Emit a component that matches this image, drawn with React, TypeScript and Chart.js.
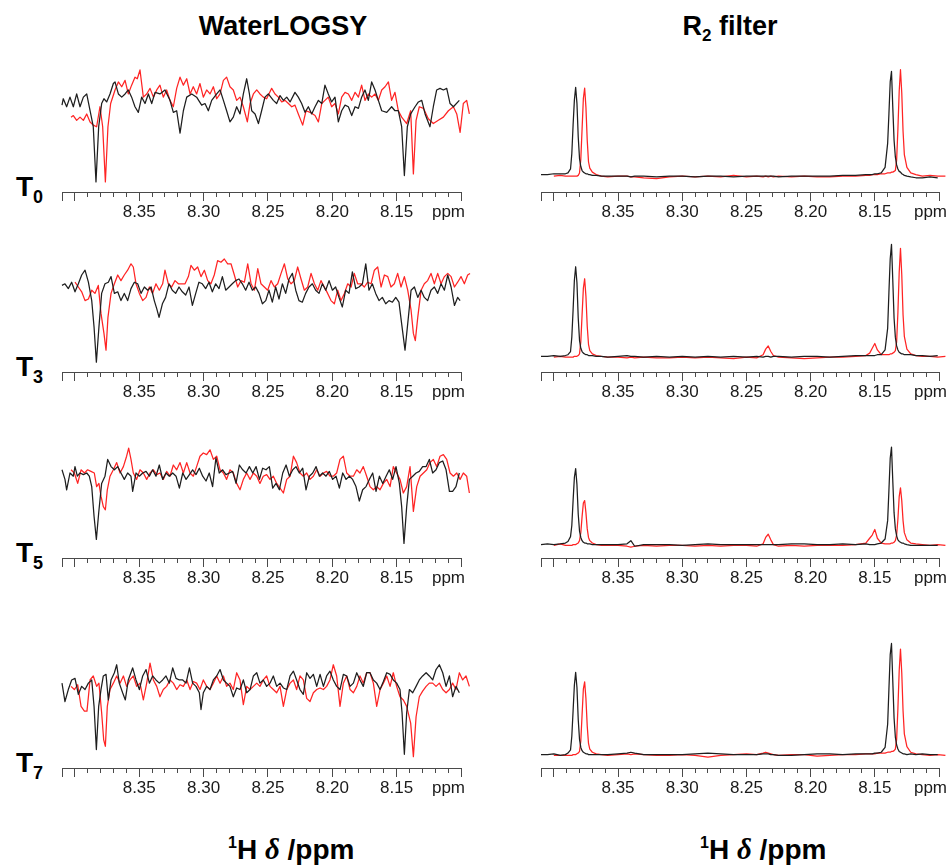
import React, { useEffect, useRef } from "react";
import { Chart, registerables } from "chart.js";

Chart.register(...registerables);

// ---------------- axis ticks (ppm) ----------------
const PPM_TICKS = [8.41, 8.4, 8.39, 8.38, 8.37, 8.36, 8.35, 8.34, 8.33, 8.32, 8.31, 8.3, 8.29, 8.28, 8.27, 8.26, 8.25, 8.24, 8.23, 8.22, 8.21, 8.2, 8.19, 8.18, 8.17, 8.16, 8.15, 8.14, 8.13, 8.12, 8.11, 8.1];
const PPM_LABELS = [8.35, 8.3, 8.25, 8.2, 8.15];
const PPM_MAJOR_TICKS = [8.41, 8.4, 8.35, 8.3, 8.25, 8.2, 8.15, 8.1];
const ROW_LABELS = ["0", "3", "5", "7"];

// ---------------- WaterLOGSY traces ----------------
const WL_T0_BLACK_PPM = [8.4100, 8.4090, 8.4064, 8.4038, 8.4012, 8.3986, 8.3960, 8.3934, 8.3908, 8.3882, 8.3857, 8.3836, 8.3815, 8.3792, 8.3774, 8.3753, 8.3727, 8.3701, 8.3688, 8.3662, 8.3636, 8.3610, 8.3585, 8.3559, 8.3533, 8.3507, 8.3481, 8.3455, 8.3429, 8.3403, 8.3377, 8.3339, 8.3300, 8.3261, 8.3235, 8.3209, 8.3183, 8.3157, 8.3131, 8.3092, 8.3054, 8.3015, 8.2989, 8.2963, 8.2937, 8.2898, 8.2872, 8.2846, 8.2821, 8.2795, 8.2769, 8.2743, 8.2717, 8.2691, 8.2665, 8.2644, 8.2626, 8.2600, 8.2574, 8.2549, 8.2523, 8.2497, 8.2458, 8.2432, 8.2406, 8.2380, 8.2354, 8.2328, 8.2290, 8.2264, 8.2238, 8.2212, 8.2186, 8.2160, 8.2134, 8.2108, 8.2082, 8.2057, 8.2031, 8.2005, 8.1979, 8.1953, 8.1927, 8.1901, 8.1875, 8.1849, 8.1823, 8.1797, 8.1772, 8.1746, 8.1720, 8.1694, 8.1668, 8.1642, 8.1616, 8.1577, 8.1539, 8.1513, 8.1487, 8.1461, 8.1440, 8.1417, 8.1391, 8.1357, 8.1331, 8.1305, 8.1279, 8.1241, 8.1215, 8.1189, 8.1163, 8.1137, 8.1111, 8.1085, 8.1059, 8.1013];
const WL_T0_BLACK_INT = [-0.06, 0.02, -0.08, 0.04, -0.08, 0.08, -0.08, 0.04, 0.08, -0.13, -0.33, -1.02, -0.33, -0.04, 0.02, -0.02, 0.08, 0.21, 0.23, 0.08, 0.04, 0.08, 0.13, 0.04, -0.08, -0.15, 0.04, -0.04, 0.08, -0.04, 0.10, 0.08, 0.13, 0.00, -0.15, -0.13, -0.41, -0.13, 0.04, 0.08, 0.04, -0.06, -0.04, -0.13, 0.00, 0.08, 0.13, 0.00, -0.13, -0.27, -0.21, -0.08, -0.17, 0.08, 0.27, 0.08, -0.13, -0.17, -0.29, -0.13, 0.04, 0.08, 0.00, -0.04, 0.06, 0.00, 0.04, -0.02, 0.10, 0.04, -0.04, -0.15, -0.08, -0.17, -0.08, 0.00, -0.04, 0.19, 0.08, -0.02, 0.04, -0.27, -0.13, -0.06, -0.08, -0.19, -0.08, -0.10, 0.04, 0.13, 0.00, 0.23, 0.13, 0.00, -0.13, -0.15, -0.08, -0.13, -0.13, -0.33, -0.94, -0.33, -0.17, -0.08, -0.02, 0.00, -0.17, -0.33, -0.08, 0.13, 0.15, 0.13, 0.15, -0.04, -0.08, 0.00];
const WL_T0_RED_PPM = [8.4030, 8.4012, 8.3986, 8.3960, 8.3934, 8.3908, 8.3882, 8.3857, 8.3831, 8.3805, 8.3784, 8.3763, 8.3743, 8.3722, 8.3688, 8.3662, 8.3636, 8.3610, 8.3585, 8.3559, 8.3533, 8.3515, 8.3494, 8.3468, 8.3442, 8.3416, 8.3390, 8.3364, 8.3339, 8.3313, 8.3287, 8.3261, 8.3235, 8.3209, 8.3183, 8.3157, 8.3131, 8.3105, 8.3080, 8.3054, 8.3028, 8.3002, 8.2976, 8.2950, 8.2924, 8.2898, 8.2872, 8.2846, 8.2821, 8.2795, 8.2769, 8.2743, 8.2717, 8.2691, 8.2660, 8.2639, 8.2613, 8.2587, 8.2562, 8.2536, 8.2510, 8.2471, 8.2445, 8.2419, 8.2393, 8.2367, 8.2341, 8.2315, 8.2290, 8.2264, 8.2230, 8.2204, 8.2173, 8.2134, 8.2108, 8.2082, 8.2057, 8.2031, 8.2005, 8.1979, 8.1953, 8.1927, 8.1901, 8.1875, 8.1849, 8.1823, 8.1797, 8.1772, 8.1746, 8.1720, 8.1694, 8.1668, 8.1642, 8.1616, 8.1590, 8.1564, 8.1539, 8.1513, 8.1487, 8.1461, 8.1422, 8.1391, 8.1370, 8.1349, 8.1324, 8.1292, 8.1254, 8.1215, 8.1176, 8.1137, 8.1098, 8.1059, 8.1033, 8.1007, 8.0982, 8.0956, 8.0935];
const WL_T0_RED_INT = [-0.21, -0.19, -0.25, -0.21, -0.25, -0.17, -0.27, -0.31, -0.33, -0.08, -0.33, -1.02, -0.33, -0.04, 0.13, 0.23, 0.17, 0.25, 0.08, 0.19, 0.29, 0.27, 0.38, 0.04, 0.08, 0.15, 0.04, 0.13, 0.19, 0.04, 0.13, 0.00, -0.08, 0.15, 0.29, 0.19, 0.27, 0.08, 0.17, 0.08, 0.21, 0.04, 0.13, 0.08, 0.17, 0.02, 0.08, 0.25, 0.29, 0.17, 0.13, 0.00, 0.04, -0.08, -0.27, -0.04, 0.08, 0.13, 0.08, 0.04, 0.02, 0.15, 0.08, 0.04, -0.02, 0.00, -0.04, -0.08, -0.06, -0.17, -0.31, -0.13, -0.15, -0.19, -0.27, -0.04, 0.00, 0.04, -0.08, -0.04, -0.17, 0.04, 0.10, 0.08, 0.00, 0.10, 0.04, 0.19, 0.00, 0.08, 0.04, 0.08, 0.00, 0.13, 0.17, 0.23, 0.00, 0.10, -0.13, -0.21, -0.29, -0.13, -0.92, -0.25, -0.08, -0.10, -0.23, -0.29, -0.25, -0.21, -0.13, -0.08, -0.17, -0.40, -0.04, 0.00, -0.17];

const WL_T3_BLACK_PPM = [8.4100, 8.4077, 8.4051, 8.4025, 8.3999, 8.3973, 8.3947, 8.3921, 8.3895, 8.3869, 8.3851, 8.3833, 8.3813, 8.3792, 8.3766, 8.3740, 8.3719, 8.3693, 8.3667, 8.3642, 8.3616, 8.3590, 8.3564, 8.3538, 8.3512, 8.3486, 8.3460, 8.3434, 8.3408, 8.3383, 8.3364, 8.3346, 8.3320, 8.3295, 8.3269, 8.3243, 8.3217, 8.3191, 8.3165, 8.3139, 8.3113, 8.3087, 8.3061, 8.3036, 8.3010, 8.2984, 8.2958, 8.2932, 8.2906, 8.2880, 8.2854, 8.2828, 8.2802, 8.2777, 8.2751, 8.2725, 8.2699, 8.2673, 8.2647, 8.2621, 8.2595, 8.2569, 8.2543, 8.2517, 8.2492, 8.2466, 8.2440, 8.2414, 8.2388, 8.2362, 8.2336, 8.2310, 8.2284, 8.2259, 8.2233, 8.2207, 8.2181, 8.2155, 8.2129, 8.2103, 8.2077, 8.2051, 8.2025, 8.1999, 8.1974, 8.1948, 8.1922, 8.1896, 8.1870, 8.1844, 8.1818, 8.1792, 8.1766, 8.1740, 8.1715, 8.1689, 8.1663, 8.1637, 8.1611, 8.1585, 8.1559, 8.1533, 8.1507, 8.1482, 8.1461, 8.1435, 8.1409, 8.1388, 8.1362, 8.1336, 8.1310, 8.1285, 8.1259, 8.1233, 8.1207, 8.1181, 8.1155, 8.1129, 8.1103, 8.1077, 8.1051, 8.1026, 8.1007];
const WL_T3_BLACK_INT = [0.02, 0.04, -0.02, 0.06, -0.06, 0.04, 0.15, 0.21, 0.06, -0.17, -0.50, -0.94, -0.50, -0.08, 0.04, 0.06, 0.13, -0.08, -0.06, -0.17, -0.08, -0.17, -0.02, 0.06, 0.04, -0.08, 0.00, -0.04, 0.00, -0.17, -0.27, -0.38, -0.21, -0.13, 0.04, -0.04, -0.08, 0.00, -0.06, -0.10, 0.00, -0.23, -0.08, 0.06, 0.04, -0.02, 0.06, -0.06, 0.04, -0.02, 0.13, -0.04, 0.00, 0.04, 0.08, 0.10, 0.04, -0.04, 0.06, -0.04, 0.00, -0.08, -0.21, -0.17, -0.04, -0.19, 0.00, -0.15, 0.04, -0.08, 0.10, 0.17, -0.04, -0.17, -0.19, -0.08, 0.00, 0.04, -0.04, -0.08, 0.04, -0.04, 0.08, -0.04, 0.00, -0.13, -0.25, -0.04, -0.08, 0.19, -0.02, 0.00, 0.04, 0.29, -0.04, 0.04, -0.08, -0.17, -0.13, -0.21, -0.17, -0.19, -0.13, -0.19, -0.46, -0.79, -0.38, -0.04, 0.00, -0.13, -0.04, -0.13, -0.17, -0.04, 0.00, -0.08, 0.04, -0.04, 0.15, 0.00, -0.23, -0.13, -0.17];
const WL_T3_RED_PPM = [8.3999, 8.3973, 8.3947, 8.3921, 8.3895, 8.3869, 8.3844, 8.3818, 8.3797, 8.3774, 8.3758, 8.3743, 8.3719, 8.3693, 8.3667, 8.3642, 8.3616, 8.3590, 8.3564, 8.3546, 8.3525, 8.3499, 8.3473, 8.3447, 8.3421, 8.3396, 8.3370, 8.3344, 8.3318, 8.3300, 8.3274, 8.3248, 8.3222, 8.3196, 8.3170, 8.3144, 8.3118, 8.3098, 8.3072, 8.3046, 8.3020, 8.2994, 8.2968, 8.2943, 8.2917, 8.2891, 8.2865, 8.2839, 8.2813, 8.2787, 8.2761, 8.2735, 8.2709, 8.2683, 8.2657, 8.2631, 8.2605, 8.2579, 8.2554, 8.2528, 8.2502, 8.2476, 8.2450, 8.2424, 8.2398, 8.2372, 8.2346, 8.2320, 8.2295, 8.2269, 8.2243, 8.2217, 8.2191, 8.2165, 8.2139, 8.2113, 8.2088, 8.2062, 8.2036, 8.2010, 8.1984, 8.1958, 8.1932, 8.1906, 8.1880, 8.1854, 8.1829, 8.1803, 8.1777, 8.1751, 8.1725, 8.1699, 8.1673, 8.1647, 8.1621, 8.1595, 8.1569, 8.1544, 8.1518, 8.1492, 8.1466, 8.1440, 8.1414, 8.1388, 8.1370, 8.1355, 8.1336, 8.1310, 8.1285, 8.1259, 8.1233, 8.1207, 8.1181, 8.1155, 8.1129, 8.1103, 8.1077, 8.1051, 8.1026, 8.1000, 8.0974, 8.0948, 8.0930];
const WL_T3_RED_INT = [0.06, 0.00, -0.06, -0.17, -0.15, -0.04, -0.08, 0.02, -0.33, -0.58, -0.79, -0.38, -0.08, 0.04, 0.15, 0.08, 0.15, 0.21, 0.29, 0.25, 0.04, -0.08, -0.17, -0.13, 0.00, -0.08, 0.04, -0.04, 0.04, 0.21, 0.04, 0.00, 0.08, 0.04, 0.04, 0.04, 0.13, 0.27, 0.21, 0.25, 0.13, 0.21, 0.08, 0.04, 0.15, 0.33, 0.31, 0.35, 0.29, 0.29, 0.15, 0.00, 0.08, 0.06, 0.29, 0.04, -0.04, 0.23, 0.04, 0.00, -0.04, 0.08, 0.00, 0.04, 0.17, 0.29, 0.10, 0.04, 0.08, 0.25, 0.10, -0.04, 0.00, 0.17, 0.04, -0.04, 0.08, 0.00, -0.08, -0.17, -0.21, -0.04, -0.17, -0.08, 0.04, 0.00, 0.17, 0.04, 0.04, 0.00, 0.06, 0.04, 0.21, 0.25, 0.00, 0.15, 0.13, 0.00, 0.04, 0.17, 0.00, 0.13, -0.04, -0.29, -0.58, -0.67, -0.38, -0.04, 0.04, 0.08, 0.17, 0.04, 0.17, 0.04, 0.13, 0.17, 0.13, 0.00, 0.06, 0.13, 0.04, 0.15, 0.17];

const WL_T5_BLACK_PPM = [8.4100, 8.4077, 8.4064, 8.4038, 8.4012, 8.3999, 8.3981, 8.3960, 8.3934, 8.3908, 8.3888, 8.3869, 8.3851, 8.3833, 8.3815, 8.3792, 8.3766, 8.3745, 8.3719, 8.3693, 8.3667, 8.3642, 8.3616, 8.3590, 8.3564, 8.3551, 8.3525, 8.3499, 8.3473, 8.3447, 8.3421, 8.3396, 8.3370, 8.3344, 8.3318, 8.3292, 8.3266, 8.3240, 8.3214, 8.3188, 8.3162, 8.3136, 8.3110, 8.3085, 8.3059, 8.3033, 8.3007, 8.2981, 8.2956, 8.2930, 8.2904, 8.2878, 8.2852, 8.2826, 8.2800, 8.2774, 8.2748, 8.2722, 8.2696, 8.2670, 8.2644, 8.2618, 8.2592, 8.2566, 8.2541, 8.2515, 8.2489, 8.2463, 8.2437, 8.2411, 8.2385, 8.2359, 8.2333, 8.2307, 8.2282, 8.2256, 8.2230, 8.2204, 8.2178, 8.2152, 8.2126, 8.2100, 8.2075, 8.2049, 8.2023, 8.1997, 8.1971, 8.1945, 8.1919, 8.1893, 8.1867, 8.1842, 8.1816, 8.1790, 8.1764, 8.1738, 8.1712, 8.1686, 8.1660, 8.1634, 8.1608, 8.1582, 8.1557, 8.1531, 8.1505, 8.1479, 8.1461, 8.1443, 8.1422, 8.1401, 8.1375, 8.1349, 8.1324, 8.1298, 8.1271, 8.1246, 8.1220, 8.1194, 8.1168, 8.1142, 8.1116, 8.1090, 8.1065, 8.1039, 8.1013];
const WL_T5_BLACK_INT = [0.04, -0.08, -0.21, 0.00, -0.04, 0.08, -0.04, 0.00, -0.02, 0.00, -0.04, -0.17, -0.54, -0.83, -0.50, -0.13, -0.04, 0.17, 0.08, 0.04, 0.08, 0.00, -0.08, 0.00, -0.04, -0.23, 0.00, -0.04, 0.00, 0.02, -0.04, 0.04, -0.04, 0.10, -0.08, 0.00, -0.04, 0.00, -0.04, -0.19, 0.00, -0.08, -0.02, 0.04, -0.02, 0.06, -0.04, -0.10, 0.00, -0.17, 0.19, 0.00, 0.04, -0.02, 0.00, 0.02, -0.13, 0.10, 0.04, 0.00, 0.08, 0.00, 0.08, -0.08, 0.06, 0.04, 0.08, -0.19, -0.13, -0.21, 0.00, 0.10, -0.04, 0.04, 0.08, 0.00, 0.06, -0.21, -0.04, 0.00, 0.08, -0.04, 0.00, -0.04, 0.02, -0.08, -0.04, -0.19, 0.00, -0.08, -0.04, -0.08, -0.17, -0.35, -0.21, -0.17, -0.08, 0.00, -0.23, -0.04, -0.13, -0.04, 0.04, -0.08, 0.08, -0.13, -0.42, -0.88, -0.42, -0.08, -0.04, 0.00, 0.02, 0.08, 0.08, 0.17, 0.00, 0.04, 0.13, 0.15, 0.04, -0.23, -0.23, -0.17, 0.00];
const WL_T5_RED_PPM = [8.4030, 8.4004, 8.3978, 8.3952, 8.3926, 8.3901, 8.3875, 8.3849, 8.3831, 8.3813, 8.3797, 8.3779, 8.3763, 8.3748, 8.3727, 8.3701, 8.3675, 8.3649, 8.3623, 8.3598, 8.3582, 8.3564, 8.3546, 8.3520, 8.3494, 8.3468, 8.3442, 8.3416, 8.3390, 8.3364, 8.3339, 8.3313, 8.3287, 8.3261, 8.3235, 8.3209, 8.3183, 8.3157, 8.3131, 8.3105, 8.3080, 8.3054, 8.3028, 8.3002, 8.2976, 8.2950, 8.2924, 8.2898, 8.2872, 8.2846, 8.2821, 8.2795, 8.2769, 8.2743, 8.2717, 8.2691, 8.2665, 8.2639, 8.2613, 8.2587, 8.2562, 8.2536, 8.2510, 8.2484, 8.2458, 8.2432, 8.2406, 8.2380, 8.2354, 8.2328, 8.2302, 8.2277, 8.2251, 8.2225, 8.2199, 8.2173, 8.2147, 8.2121, 8.2095, 8.2069, 8.2044, 8.2018, 8.1992, 8.1966, 8.1940, 8.1914, 8.1888, 8.1862, 8.1836, 8.1810, 8.1785, 8.1759, 8.1733, 8.1707, 8.1681, 8.1655, 8.1629, 8.1603, 8.1577, 8.1551, 8.1526, 8.1500, 8.1474, 8.1448, 8.1422, 8.1396, 8.1370, 8.1344, 8.1318, 8.1292, 8.1266, 8.1241, 8.1215, 8.1189, 8.1163, 8.1137, 8.1111, 8.1085, 8.1059, 8.1033, 8.1007, 8.0982, 8.0956, 8.0935];
const WL_T5_RED_INT = [0.04, 0.00, -0.13, 0.04, 0.00, 0.04, 0.02, 0.00, -0.17, -0.13, -0.29, -0.42, -0.46, -0.21, -0.04, 0.04, 0.13, 0.00, 0.08, 0.21, 0.31, 0.17, 0.00, -0.08, 0.04, 0.00, -0.08, 0.00, 0.04, -0.02, 0.00, -0.08, 0.02, -0.04, 0.10, 0.04, 0.13, 0.00, 0.13, 0.00, -0.04, 0.08, 0.21, 0.25, 0.23, 0.29, 0.17, 0.21, 0.04, 0.00, -0.08, 0.04, 0.00, -0.13, -0.21, -0.08, 0.00, -0.08, 0.00, -0.04, -0.13, -0.04, -0.02, -0.08, -0.04, -0.13, -0.19, -0.25, -0.08, -0.04, 0.21, 0.13, 0.00, -0.04, 0.00, -0.08, -0.04, 0.04, -0.04, 0.00, 0.02, -0.04, -0.04, 0.00, 0.17, 0.21, 0.00, -0.04, -0.04, 0.04, 0.00, 0.08, -0.04, -0.17, -0.21, -0.17, -0.21, -0.13, -0.08, -0.17, 0.08, 0.00, -0.08, -0.25, -0.17, 0.08, -0.48, -0.17, -0.04, 0.00, 0.04, 0.13, 0.17, 0.08, 0.21, 0.23, 0.17, 0.00, -0.04, 0.00, -0.08, 0.00, -0.04, -0.25];

const WL_T7_BLACK_PPM = [8.4100, 8.4077, 8.4051, 8.4025, 8.3999, 8.3973, 8.3947, 8.3921, 8.3895, 8.3869, 8.3851, 8.3833, 8.3815, 8.3797, 8.3779, 8.3758, 8.3740, 8.3719, 8.3693, 8.3675, 8.3655, 8.3629, 8.3608, 8.3585, 8.3551, 8.3525, 8.3499, 8.3473, 8.3447, 8.3421, 8.3396, 8.3370, 8.3344, 8.3318, 8.3292, 8.3266, 8.3240, 8.3214, 8.3188, 8.3162, 8.3136, 8.3110, 8.3085, 8.3059, 8.3033, 8.3020, 8.3002, 8.2976, 8.2950, 8.2924, 8.2898, 8.2872, 8.2846, 8.2821, 8.2795, 8.2769, 8.2743, 8.2717, 8.2691, 8.2665, 8.2639, 8.2613, 8.2587, 8.2562, 8.2536, 8.2510, 8.2484, 8.2458, 8.2432, 8.2406, 8.2380, 8.2354, 8.2328, 8.2302, 8.2277, 8.2251, 8.2225, 8.2199, 8.2173, 8.2147, 8.2121, 8.2095, 8.2069, 8.2044, 8.2018, 8.1992, 8.1966, 8.1940, 8.1914, 8.1888, 8.1862, 8.1836, 8.1810, 8.1785, 8.1759, 8.1733, 8.1707, 8.1681, 8.1655, 8.1629, 8.1603, 8.1577, 8.1551, 8.1526, 8.1500, 8.1474, 8.1458, 8.1440, 8.1422, 8.1401, 8.1375, 8.1349, 8.1324, 8.1298, 8.1271, 8.1246, 8.1220, 8.1194, 8.1168, 8.1142, 8.1116, 8.1090, 8.1065, 8.1039, 8.1013];
const WL_T7_BLACK_INT = [0.04, -0.19, -0.04, 0.08, 0.10, -0.10, 0.00, -0.04, 0.04, 0.08, -0.25, -0.79, -0.25, -0.04, 0.13, 0.15, -0.17, 0.08, 0.17, 0.27, 0.04, -0.08, -0.17, 0.08, 0.23, 0.08, -0.04, 0.13, 0.21, 0.04, 0.13, 0.08, 0.04, 0.08, 0.13, 0.04, 0.23, 0.10, 0.08, 0.08, 0.04, 0.23, 0.04, 0.00, -0.08, -0.29, -0.08, 0.00, -0.04, 0.08, 0.13, 0.21, 0.08, 0.04, 0.00, -0.13, -0.02, -0.04, 0.08, -0.08, -0.04, 0.13, 0.17, 0.04, 0.08, 0.00, 0.04, 0.13, 0.00, 0.04, -0.02, -0.04, 0.13, 0.19, 0.08, -0.04, -0.10, 0.17, 0.10, 0.15, 0.00, 0.15, 0.00, 0.13, 0.19, 0.08, 0.00, -0.04, 0.15, 0.13, 0.00, 0.04, 0.17, 0.08, 0.00, 0.17, 0.17, 0.08, 0.04, -0.04, 0.06, 0.17, 0.15, 0.08, 0.04, -0.04, -0.33, -0.85, -0.33, -0.04, -0.08, 0.00, 0.08, 0.13, 0.17, 0.13, 0.08, 0.21, 0.27, 0.17, 0.00, 0.13, -0.13, 0.00, -0.08];
const WL_T7_RED_PPM = [8.4030, 8.4004, 8.3978, 8.3952, 8.3926, 8.3906, 8.3882, 8.3857, 8.3831, 8.3813, 8.3792, 8.3776, 8.3763, 8.3748, 8.3727, 8.3701, 8.3675, 8.3649, 8.3623, 8.3598, 8.3572, 8.3546, 8.3520, 8.3494, 8.3468, 8.3442, 8.3416, 8.3390, 8.3364, 8.3339, 8.3313, 8.3287, 8.3261, 8.3235, 8.3209, 8.3183, 8.3157, 8.3131, 8.3105, 8.3080, 8.3054, 8.3028, 8.3002, 8.2976, 8.2950, 8.2924, 8.2898, 8.2872, 8.2846, 8.2821, 8.2795, 8.2769, 8.2743, 8.2717, 8.2691, 8.2665, 8.2639, 8.2613, 8.2587, 8.2562, 8.2536, 8.2510, 8.2484, 8.2458, 8.2432, 8.2406, 8.2380, 8.2354, 8.2328, 8.2302, 8.2277, 8.2251, 8.2225, 8.2199, 8.2173, 8.2147, 8.2121, 8.2095, 8.2069, 8.2044, 8.2018, 8.1992, 8.1966, 8.1940, 8.1914, 8.1888, 8.1862, 8.1836, 8.1810, 8.1785, 8.1759, 8.1733, 8.1707, 8.1681, 8.1655, 8.1629, 8.1603, 8.1577, 8.1551, 8.1526, 8.1500, 8.1474, 8.1448, 8.1422, 8.1391, 8.1370, 8.1349, 8.1324, 8.1298, 8.1271, 8.1246, 8.1220, 8.1194, 8.1168, 8.1142, 8.1116, 8.1090, 8.1065, 8.1039, 8.1013, 8.0987, 8.0961, 8.0935];
const WL_T7_RED_INT = [0.00, -0.04, 0.02, -0.25, -0.31, -0.31, 0.08, 0.13, 0.00, 0.04, -0.33, -0.67, -0.75, -0.25, -0.04, 0.04, 0.13, 0.04, 0.13, 0.00, 0.08, 0.13, 0.00, 0.04, -0.17, 0.04, 0.29, 0.08, 0.00, -0.13, -0.04, 0.00, 0.08, 0.04, -0.04, 0.02, 0.00, 0.08, -0.04, 0.06, 0.04, -0.04, 0.08, 0.00, -0.04, 0.04, 0.13, 0.04, 0.13, 0.00, 0.04, -0.04, 0.17, 0.08, -0.23, 0.00, -0.04, 0.00, 0.04, 0.00, 0.08, 0.13, 0.00, -0.04, -0.08, 0.00, -0.25, -0.04, 0.04, 0.08, -0.04, 0.13, 0.08, -0.15, -0.19, -0.08, -0.04, -0.02, -0.04, 0.00, 0.08, 0.27, 0.13, -0.25, 0.04, 0.13, -0.04, -0.08, 0.00, 0.13, 0.04, 0.17, 0.17, 0.04, -0.25, -0.04, 0.04, 0.13, 0.00, 0.17, 0.00, -0.13, -0.17, -0.25, -0.46, -0.88, -0.38, -0.13, -0.06, 0.00, 0.04, 0.04, 0.00, 0.04, -0.04, -0.08, -0.04, 0.04, -0.04, 0.17, 0.08, 0.13, 0.00];

// ---------------- R2 filter traces (shared ppm grid) ----------------
const R2_PPM = [8.410, 8.405, 8.400, 8.395, 8.391, 8.389, 8.387, 8.386, 8.385, 8.384, 8.383, 8.382, 8.381, 8.380, 8.379, 8.378, 8.377, 8.376, 8.375, 8.374, 8.373, 8.372, 8.370, 8.367, 8.363, 8.358, 8.350, 8.343, 8.340, 8.337, 8.330, 8.320, 8.310, 8.300, 8.290, 8.280, 8.270, 8.260, 8.250, 8.242, 8.237, 8.235, 8.233, 8.231, 8.229, 8.225, 8.215, 8.205, 8.195, 8.185, 8.175, 8.165, 8.157, 8.154, 8.152, 8.150, 8.148, 8.145, 8.142, 8.140, 8.139, 8.138, 8.137, 8.136, 8.135, 8.134, 8.133, 8.132, 8.131, 8.130, 8.129, 8.128, 8.127, 8.125, 8.122, 8.118, 8.113, 8.107, 8.101, 8.095];
const R2_T0_BLACK = [0.01, 0.01, 0.02, 0.02, 0.02, 0.03, 0.08, 0.27, 0.63, 0.94, 1.10, 0.90, 0.48, 0.21, 0.11, 0.06, 0.04, 0.03, 0.02, 0.02, 0.01, 0.01, 0.00, 0.00, -0.01, -0.01, -0.01, -0.01, -0.02, -0.01, -0.01, -0.02, -0.01, -0.01, -0.02, -0.01, -0.01, -0.02, -0.01, -0.01, -0.01, -0.01, -0.01, -0.01, -0.01, -0.02, -0.01, -0.01, -0.01, -0.01, 0.00, 0.00, 0.01, 0.01, 0.01, 0.02, 0.02, 0.03, 0.10, 0.40, 0.77, 1.17, 1.30, 0.85, 0.44, 0.23, 0.13, 0.08, 0.05, 0.04, 0.02, 0.01, 0.00, -0.01, -0.02, -0.03, -0.03, -0.02, -0.03, null];
const R2_T0_RED = [null, null, -0.01, 0.00, -0.01, -0.01, -0.01, -0.01, -0.01, -0.01, -0.01, -0.01, 0.00, 0.03, 0.20, 0.58, 0.96, 1.09, 0.85, 0.44, 0.17, 0.09, 0.04, 0.01, -0.01, -0.02, -0.01, -0.01, -0.02, -0.02, -0.03, -0.04, -0.02, -0.01, -0.02, -0.01, -0.02, 0.00, -0.02, -0.01, -0.02, -0.01, -0.02, -0.01, -0.02, -0.01, -0.02, -0.01, -0.02, -0.02, -0.01, -0.01, 0.00, 0.00, 0.01, 0.01, 0.01, 0.02, 0.02, 0.03, 0.03, 0.03, 0.04, 0.04, 0.05, 0.06, 0.19, 0.58, 1.05, 1.32, 1.03, 0.55, 0.26, 0.10, 0.03, 0.01, -0.01, 0.00, -0.01, -0.01];
const R2_T3_BLACK = [0.00, 0.00, 0.01, 0.00, 0.01, 0.02, 0.06, 0.24, 0.58, 0.95, 1.12, 0.92, 0.48, 0.20, 0.10, 0.06, 0.04, 0.03, 0.02, 0.02, 0.01, 0.01, 0.01, 0.00, 0.00, -0.01, 0.00, 0.01, 0.00, 0.00, -0.01, 0.00, -0.01, 0.00, -0.01, 0.00, -0.01, 0.00, -0.01, 0.00, -0.01, 0.00, 0.00, -0.01, 0.00, 0.00, -0.01, 0.00, 0.00, -0.01, 0.00, 0.01, 0.01, 0.01, 0.01, 0.01, 0.02, 0.02, 0.08, 0.35, 0.80, 1.22, 1.40, 0.95, 0.48, 0.24, 0.13, 0.08, 0.05, 0.04, 0.03, 0.03, 0.02, 0.02, 0.02, 0.01, 0.01, 0.00, 0.01, null];
const R2_T3_RED = [null, null, -0.01, 0.00, -0.01, -0.01, -0.01, -0.01, -0.01, 0.00, 0.00, 0.00, 0.01, 0.03, 0.18, 0.52, 0.85, 0.97, 0.75, 0.38, 0.15, 0.07, 0.03, 0.01, 0.00, -0.01, -0.01, -0.02, -0.01, -0.02, -0.01, -0.02, -0.02, -0.01, -0.02, -0.01, -0.02, -0.03, -0.01, -0.02, 0.02, 0.09, 0.13, 0.06, 0.01, -0.01, -0.02, -0.03, -0.02, -0.01, -0.01, 0.00, 0.01, 0.04, 0.10, 0.16, 0.08, 0.02, 0.02, 0.02, 0.02, 0.03, 0.03, 0.04, 0.05, 0.07, 0.18, 0.55, 1.05, 1.35, 1.02, 0.52, 0.25, 0.09, 0.03, 0.01, 0.00, 0.00, -0.01, 0.00];
const R2_T5_BLACK = [0.00, 0.01, 0.00, 0.01, 0.02, 0.04, 0.10, 0.24, 0.55, 0.84, 0.95, 0.75, 0.38, 0.17, 0.09, 0.05, 0.03, 0.02, 0.02, 0.01, 0.01, 0.01, 0.00, 0.00, 0.00, 0.00, 0.00, 0.01, 0.05, -0.02, 0.00, 0.00, 0.00, -0.01, 0.00, 0.01, 0.00, 0.00, 0.00, 0.00, 0.00, 0.00, 0.00, 0.00, 0.00, 0.00, 0.01, 0.01, 0.00, 0.00, 0.01, 0.00, 0.01, 0.00, 0.00, 0.00, 0.01, 0.02, 0.07, 0.30, 0.68, 1.08, 1.22, 0.80, 0.40, 0.20, 0.11, 0.06, 0.04, 0.03, 0.02, 0.02, 0.01, 0.00, -0.01, -0.01, -0.01, -0.01, -0.01, null];
const R2_T5_RED = [null, null, -0.01, 0.01, -0.01, -0.01, -0.01, -0.01, 0.00, 0.00, 0.00, 0.01, 0.02, 0.05, 0.15, 0.35, 0.52, 0.55, 0.40, 0.20, 0.09, 0.05, 0.02, 0.00, -0.01, -0.01, -0.01, -0.02, -0.03, -0.02, -0.01, -0.02, -0.01, -0.01, -0.02, -0.01, -0.02, -0.01, -0.01, -0.02, 0.01, 0.09, 0.13, 0.06, 0.00, -0.02, -0.01, -0.02, -0.01, -0.01, -0.01, 0.00, 0.02, 0.08, 0.12, 0.19, 0.08, 0.02, 0.01, 0.01, 0.01, 0.01, 0.02, 0.02, 0.03, 0.05, 0.12, 0.32, 0.60, 0.71, 0.55, 0.30, 0.15, 0.06, 0.02, 0.01, 0.00, -0.01, 0.00, -0.01];
const R2_T7_BLACK = [0.00, 0.00, 0.01, -0.01, 0.00, 0.02, 0.06, 0.23, 0.55, 0.87, 1.03, 0.84, 0.44, 0.19, 0.09, 0.05, 0.03, 0.02, 0.01, 0.01, 0.00, 0.00, 0.00, 0.00, 0.00, 0.00, 0.01, 0.02, 0.03, 0.02, 0.00, 0.00, 0.00, 0.00, 0.01, 0.02, 0.01, 0.00, 0.00, 0.00, 0.01, 0.01, 0.01, 0.00, 0.00, -0.01, -0.01, 0.00, 0.01, 0.01, 0.00, 0.01, 0.01, 0.01, 0.01, 0.02, 0.02, 0.03, 0.09, 0.38, 0.82, 1.25, 1.39, 0.92, 0.46, 0.22, 0.12, 0.07, 0.04, 0.03, 0.02, 0.01, 0.01, 0.00, 0.01, 0.00, 0.01, 0.00, 0.00, null];
const R2_T7_RED = [null, null, -0.01, -0.01, -0.01, -0.01, -0.01, -0.01, 0.00, 0.00, 0.00, 0.01, 0.02, 0.04, 0.17, 0.50, 0.82, 0.91, 0.70, 0.36, 0.14, 0.07, 0.03, 0.01, 0.00, -0.01, 0.00, 0.01, 0.00, 0.01, 0.00, -0.01, -0.01, 0.00, -0.01, -0.03, -0.01, 0.00, 0.01, 0.00, 0.02, 0.03, 0.02, 0.01, 0.00, -0.01, 0.00, 0.00, -0.02, -0.01, 0.00, 0.00, 0.01, 0.01, 0.01, 0.01, 0.02, 0.02, 0.02, 0.03, 0.03, 0.03, 0.04, 0.04, 0.05, 0.07, 0.19, 0.58, 1.05, 1.32, 1.02, 0.55, 0.26, 0.10, 0.03, 0.01, 0.00, -0.01, 0.00, -0.01];

// intensity window of each row (arbitrary units)
const WL_Y_MIN = [-1.146, -1.0625, -1.0625, -1.021];
const WL_Y_MAX = [0.542, 0.625, 0.625, 0.667];
const R2_Y_MIN = [-0.208, -0.196, -0.167, -0.167];
const R2_Y_MAX = [1.479, 1.492, 1.521, 1.521];

// ---------------- layout / style ----------------
const FONT = "'Liberation Sans', Arial, Helvetica, sans-serif";
const BLACK = "#1e1e1e";
const RED = "#ff2424";
const AXIS_COLOR = "#4a4a4a";
const ROW_AXIS_Y = [192, 372, 558, 768];
const PLOT_H = 135;
const CANVAS_H = 175;
const COLS = [
  { left: 40, width: 450, padLeft: 22, padRight: 29, ppmRight: 465 },
  { left: 520, width: 427, padLeft: 21, padRight: 8, ppmRight: 947 },
];

function toPoints(ppm: number[], vals: (number | null)[]) {
  const n = Math.min(ppm.length, vals.length);
  const pts: { x: number; y: number }[] = [];
  for (let i = 0; i < n; i++) {
    const v = vals[i];
    if (v !== null && v !== undefined) pts.push({ x: ppm[i], y: v });
  }
  return pts;
}

const majorTickPlugin = {
  id: "majorTicks",
  afterDraw(chart: any) {
    const xs = chart.scales.x;
    const ctx = chart.ctx;
    const y0 = chart.chartArea.bottom;
    ctx.save();
    ctx.strokeStyle = AXIS_COLOR;
    ctx.lineWidth = 1;
    for (const v of PPM_MAJOR_TICKS) {
      const px = Math.round(xs.getPixelForValue(v) - 0.5) + 0.5;
      ctx.beginPath();
      ctx.moveTo(px, y0);
      ctx.lineTo(px, y0 + 9);
      ctx.stroke();
    }
    ctx.restore();
  },
};

type PanelProps = {
  col: number;
  row: number;
  black: { x: number; y: number }[];
  red: { x: number; y: number }[];
  yMin: number;
  yMax: number;
};

function SpectrumPanel({ col, row, black, red, yMin, yMax }: PanelProps) {
  const ref = useRef<HTMLCanvasElement | null>(null);
  const c = COLS[col];
  const top = ROW_AXIS_Y[row] - PLOT_H;
  useEffect(() => {
    if (!ref.current) return;
    const chart = new Chart(ref.current, {
      type: "line",
      data: {
        datasets: [
          { data: black, borderColor: BLACK, borderWidth: 1.25, pointRadius: 0, tension: 0, clip: false as any, borderJoinStyle: "round" },
          { data: red, borderColor: RED, borderWidth: 1.25, pointRadius: 0, tension: 0, clip: false as any, borderJoinStyle: "round" },
        ],
      },
      options: {
        animation: false,
        responsive: false,
        maintainAspectRatio: false,
        events: [],
        layout: { padding: { left: c.padLeft, right: c.padRight, top: 0, bottom: CANVAS_H - PLOT_H - 35.4 } },
        plugins: { legend: { display: false }, tooltip: { enabled: false }, title: { display: false } },
        scales: {
          x: {
            type: "linear",
            reverse: true,
            min: 8.1,
            max: 8.41,
            afterBuildTicks: (scale: any) => {
              scale.ticks = PPM_TICKS.map((v) => ({ value: v }));
            },
            ticks: {
              autoSkip: false,
              maxRotation: 0,
              minRotation: 0,
              padding: 5,
              color: "#1a1a1a",
              font: { family: FONT, size: 17 },
              callback: (value: any) => {
                const v = Number(value);
                return PPM_LABELS.some((l) => Math.abs(l - v) < 1e-6) ? v.toFixed(2) : "";
              },
            },
            grid: { drawOnChartArea: false, drawTicks: true, tickLength: 5, color: AXIS_COLOR, tickColor: AXIS_COLOR, tickWidth: 1 },
            border: { display: true, color: AXIS_COLOR, width: 1 },
          },
          y: { display: false, min: yMin, max: yMax },
        },
      },
      plugins: [majorTickPlugin],
    } as any);
    return () => chart.destroy();
  }, []);
  return (
    <canvas
      ref={ref}
      width={c.width}
      height={CANVAS_H}
      style={{ position: "absolute", left: c.left, top, width: c.width, height: CANVAS_H }}
    />
  );
}

const WL_DATA = [
  [WL_T0_BLACK_PPM, WL_T0_BLACK_INT, WL_T0_RED_PPM, WL_T0_RED_INT],
  [WL_T3_BLACK_PPM, WL_T3_BLACK_INT, WL_T3_RED_PPM, WL_T3_RED_INT],
  [WL_T5_BLACK_PPM, WL_T5_BLACK_INT, WL_T5_RED_PPM, WL_T5_RED_INT],
  [WL_T7_BLACK_PPM, WL_T7_BLACK_INT, WL_T7_RED_PPM, WL_T7_RED_INT],
];
const R2_DATA = [
  [R2_T0_BLACK, R2_T0_RED],
  [R2_T3_BLACK, R2_T3_RED],
  [R2_T5_BLACK, R2_T5_RED],
  [R2_T7_BLACK, R2_T7_RED],
];

const boldText = (size: number): React.CSSProperties => ({
  fontFamily: FONT,
  fontWeight: "bold",
  fontSize: size,
  lineHeight: `${size}px`,
  color: "#000",
  whiteSpace: "nowrap",
});

const shifted = (size: number, dy: number): React.CSSProperties => ({
  fontSize: size,
  position: "relative",
  top: dy,
  lineHeight: "1px",
});

function AxisTitle({ left }: { left: number }) {
  return (
    <div style={{ position: "absolute", left, top: 836, ...boldText(28) }}>
      <span style={shifted(16, -11)}>1</span>
      <span>H </span>
      <span style={{ fontFamily: "'Liberation Serif', 'DejaVu Serif', serif", fontStyle: "italic", fontWeight: "bold", fontSize: 29, lineHeight: "1px" }}>δ</span>
      <span> /ppm</span>
    </div>
  );
}

export default function App() {
  return (
    <div style={{ position: "absolute", left: 0, top: 0, width: 947, height: 866, background: "#fff", overflow: "hidden" }}>
      <div style={{ position: "absolute", left: 183, top: 13, width: 200, textAlign: "center", ...boldText(27) }}>WaterLOGSY</div>
      <div style={{ position: "absolute", left: 630, top: 13, width: 200, textAlign: "center", ...boldText(27) }}>
        R<span style={shifted(17, 6)}>2</span> filter
      </div>

      {ROW_AXIS_Y.map((ay, r) => (
        <div key={"T" + r} style={{ position: "absolute", left: 16, top: ay - 19, ...boldText(28) }}>
          T<span style={shifted(18, 7)}>{ROW_LABELS[r]}</span>
        </div>
      ))}

      {WL_DATA.map((d, r) => (
        <SpectrumPanel
          key={"wl" + r}
          col={0}
          row={r}
          black={toPoints(d[0] as number[], d[1] as number[])}
          red={toPoints(d[2] as number[], d[3] as number[])}
          yMin={WL_Y_MIN[r]}
          yMax={WL_Y_MAX[r]}
        />
      ))}
      {R2_DATA.map((d, r) => (
        <SpectrumPanel
          key={"r2" + r}
          col={1}
          row={r}
          black={toPoints(R2_PPM, d[0])}
          red={toPoints(R2_PPM, d[1])}
          yMin={R2_Y_MIN[r]}
          yMax={R2_Y_MAX[r]}
        />
      ))}

      {ROW_AXIS_Y.map((ay, r) =>
        COLS.map((c, ci) => (
          <div
            key={`ppm${r}-${ci}`}
            style={{ position: "absolute", left: c.ppmRight - 60, width: 60, top: ay + 10, textAlign: "right", fontFamily: FONT, fontSize: 17, lineHeight: "20px", color: "#1a1a1a" }}
          >
            ppm
          </div>
        ))
      )}

      <AxisTitle left={228} />
      <AxisTitle left={700} />
    </div>
  );
}
